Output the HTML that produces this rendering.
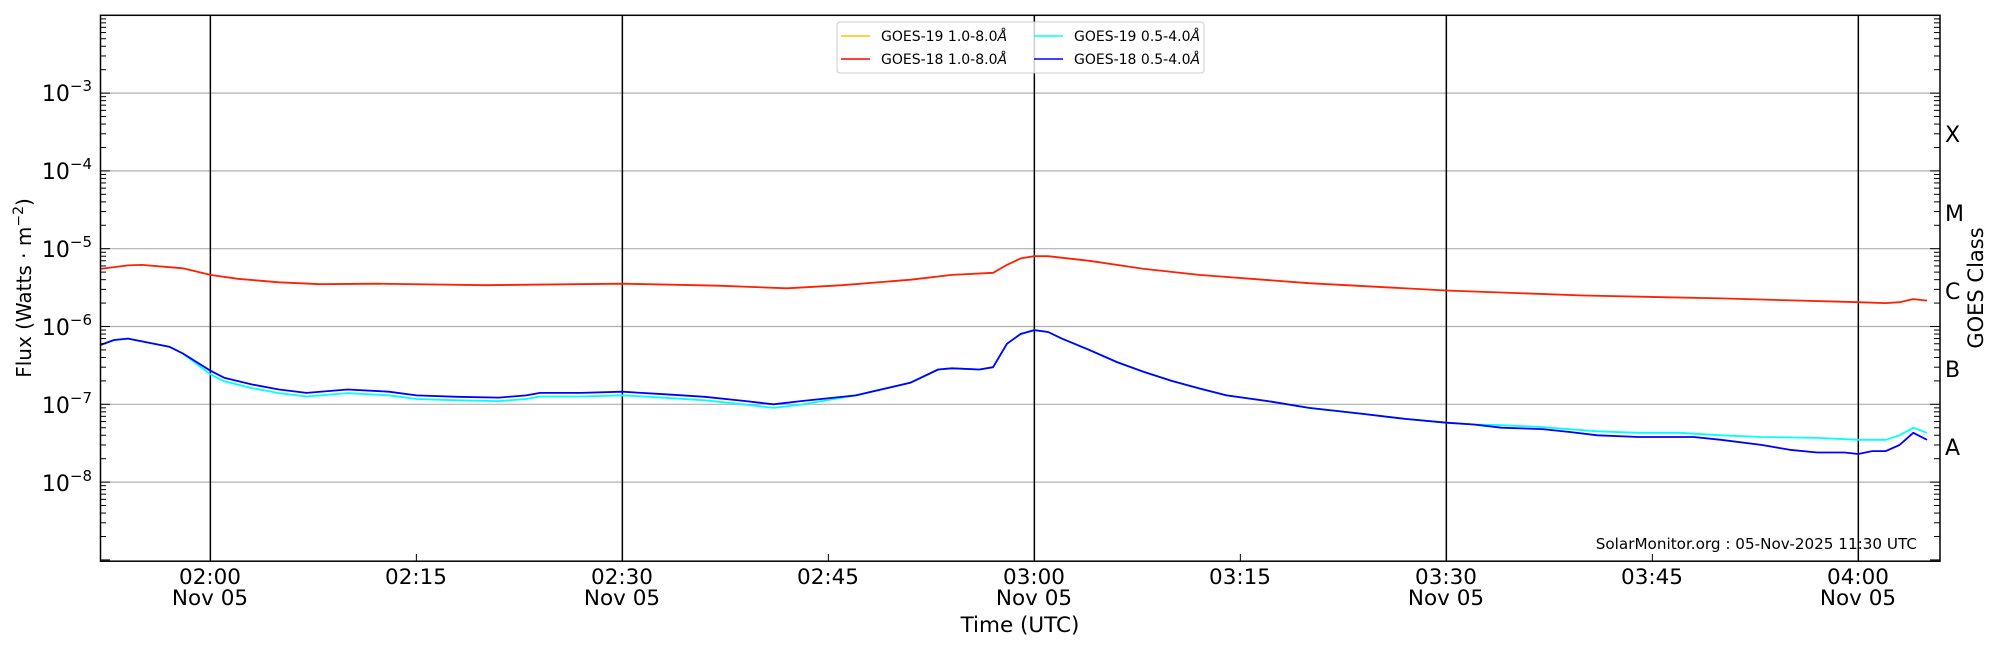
<!DOCTYPE html>
<html><head><meta charset="utf-8"><style>body{margin:0;background:#fff}svg{display:block}text{font-family:"DejaVu Sans","Liberation Sans",sans-serif}</style></head>
<body>
<svg id="s" width="2000" height="650" viewBox="0 0 2000 650">
<g id="grid"></g>
<g id="series"></g>
<rect x="100.5" y="15.3" width="1839.5" height="545.9" fill="none" stroke="#000" stroke-width="1.5"/>
<g id="ticks"></g>
<g font-size="22" text-anchor="end">
<text x="92" y="101">10<tspan dy="-10" font-size="15">−3</tspan></text>
<text x="92" y="179">10<tspan dy="-10" font-size="15">−4</tspan></text>
<text x="92" y="257">10<tspan dy="-10" font-size="15">−5</tspan></text>
<text x="92" y="335">10<tspan dy="-10" font-size="15">−6</tspan></text>
<text x="92" y="413">10<tspan dy="-10" font-size="15">−7</tspan></text>
<text x="92" y="491">10<tspan dy="-10" font-size="15">−8</tspan></text>
</g>
<text transform="translate(31,288) rotate(-90)" font-size="20" text-anchor="middle">Flux (Watts · m<tspan dy="-8" font-size="14">−2</tspan><tspan dy="8">)</tspan></text>
<g font-size="22">
<text x="1945" y="142">X</text><text x="1945" y="221">M</text><text x="1945" y="299">C</text><text x="1945" y="377">B</text><text x="1945" y="455">A</text>
</g>
<text transform="translate(1983,288) rotate(-90)" font-size="21" text-anchor="middle">GOES Class</text>
<g font-size="21.5" text-anchor="middle">
<text x="210" y="584">02:00</text><text x="210" y="605">Nov 05</text>
<text x="416" y="584">02:15</text>
<text x="622" y="584">02:30</text><text x="622" y="605">Nov 05</text>
<text x="828" y="584">02:45</text>
<text x="1034" y="584">03:00</text><text x="1034" y="605">Nov 05</text>
<text x="1240" y="584">03:15</text>
<text x="1446" y="584">03:30</text><text x="1446" y="605">Nov 05</text>
<text x="1652" y="584">03:45</text>
<text x="1858" y="584">04:00</text><text x="1858" y="605">Nov 05</text>
<text x="1020" y="632">Time (UTC)</text>
</g>
<text x="1917" y="549" font-size="15.2" text-anchor="end">SolarMonitor.org : 05-Nov-2025 11:30 UTC</text>
<g>
<rect x="837" y="22" width="367" height="51" fill="#fff" fill-opacity="0.8" stroke="#ccc" rx="3"/>
<line x1="841" y1="36" x2="870" y2="36" stroke="#ffc000" stroke-width="1.5"/>
<line x1="841" y1="59" x2="870" y2="59" stroke="#ff0000" stroke-width="1.5"/>
<line x1="1034" y1="36" x2="1063" y2="36" stroke="#00ffff" stroke-width="1.5"/>
<line x1="1034" y1="59" x2="1063" y2="59" stroke="#0000ff" stroke-width="1.5"/>
<g font-size="14"><text x="881" y="41">GOES-19 1.0-8.0<tspan font-style="italic">Å</tspan></text>
<text x="881" y="64">GOES-18 1.0-8.0<tspan font-style="italic">Å</tspan></text>
<text x="1074" y="41">GOES-19 0.5-4.0<tspan font-style="italic">Å</tspan></text>
<text x="1074" y="64">GOES-18 0.5-4.0<tspan font-style="italic">Å</tspan></text></g>
</g>
</svg>
<script>
var NS="http://www.w3.org/2000/svg";
function X(m){return 100.5+m*13.733;}
function Y(v){return 93.1-(Math.log10(v)+3)*77.8;}
function t(h,m){return (h-1)*60+m-52;}
function el(p,tag,a){var e=document.createElementNS(NS,tag);for(var k in a)e.setAttribute(k,a[k]);p.appendChild(e);return e;}
var g=document.getElementById('grid'),tk=document.getElementById('ticks'),sr=document.getElementById('series');
for(var d=-8;d<=-3;d++){var y=Y(Math.pow(10,d));el(g,'line',{x1:100,x2:1940,y1:y,y2:y,stroke:'#b0b0b0','stroke-width':1.2});}
for(var d=-9;d<=-3;d++){for(var k=1;k<=9;k++){var y=Y(k*Math.pow(10,d));if(y<15||y>561)continue;var L=k==1?10:6;
el(tk,'line',{x1:100,x2:100+L,y1:y,y2:y,stroke:'#000'});el(tk,'line',{x1:1940,x2:1940-L,y1:y,y2:y,stroke:'#000'});}}
[[2,0],[2,30],[3,0],[3,30],[4,0]].forEach(function(a){var x=X(t(a[0],a[1]));el(g,'line',{x1:x,x2:x,y1:15,y2:561,stroke:'#000','stroke-width':1.5});});
[[2,15],[2,45],[3,15],[3,45]].forEach(function(a){var x=X(t(a[0],a[1]));el(tk,'line',{x1:x,x2:x,y1:561,y2:554,stroke:'#000'});});
function P(arr,col){var s='';arr.forEach(function(p,i){s+=(i?'L':'M')+X(t(p[0],p[1])).toFixed(1)+','+Y(p[2]).toFixed(1);});el(sr,'path',{d:s,fill:'none',stroke:col,'stroke-width':1.8,'stroke-linejoin':'round'});}
var red=[[1,52,5.5e-6],[1,54,6.1e-6],[1,55,6.2e-6],[1,58,5.6e-6],[2,0,4.6e-6],[2,2,4.1e-6],[2,5,3.7e-6],[2,8,3.5e-6],[2,12,3.55e-6],[2,20,3.4e-6],[2,30,3.55e-6],[2,37,3.35e-6],[2,42,3.1e-6],[2,46,3.4e-6],[2,51,4.0e-6],[2,54,4.6e-6],[2,57,4.9e-6],[2,58,6.2e-6],[2,59,7.5e-6],[3,0,8e-6],[3,1,8e-6],[3,4,7e-6],[3,8,5.5e-6],[3,12,4.6e-6],[3,20,3.6e-6],[3,30,2.9e-6],[3,40,2.5e-6],[3,50,2.3e-6],[4,0,2.05e-6],[4,2,2.0e-6],[4,3,2.05e-6],[4,4,2.25e-6],[4,5,2.15e-6]];
var blue=[[1,52,5.8e-7],[1,53,6.7e-7],[1,54,7e-7],[1,57,5.5e-7],[1,58,4.5e-7],[2,0,2.7e-7],[2,1,2.2e-7],[2,3,1.8e-7],[2,5,1.55e-7],[2,7,1.4e-7],[2,10,1.55e-7],[2,13,1.45e-7],[2,15,1.3e-7],[2,18,1.25e-7],[2,21,1.22e-7],[2,23,1.3e-7],[2,24,1.4e-7],[2,27,1.4e-7],[2,30,1.45e-7],[2,33,1.35e-7],[2,36,1.25e-7],[2,39,1.1e-7],[2,41,1.0e-7],[2,43,1.1e-7],[2,47,1.3e-7],[2,51,1.9e-7],[2,53,2.8e-7],[2,54,2.9e-7],[2,56,2.8e-7],[2,57,3e-7],[2,58,6e-7],[2,59,8e-7],[3,0,9e-7],[3,1,8.5e-7],[3,2,7e-7],[3,4,5e-7],[3,6,3.5e-7],[3,8,2.6e-7],[3,10,2e-7],[3,12,1.6e-7],[3,14,1.3e-7],[3,17,1.1e-7],[3,20,9e-8],[3,24,7.5e-8],[3,27,6.5e-8],[3,30,5.8e-8],[3,32,5.5e-8],[3,34,5e-8],[3,37,4.8e-8],[3,39,4.4e-8],[3,41,4e-8],[3,44,3.8e-8],[3,48,3.8e-8],[3,50,3.5e-8],[3,53,3e-8],[3,55,2.6e-8],[3,57,2.4e-8],[3,59,2.4e-8],[4,0,2.3e-8],[4,1,2.5e-8],[4,2,2.5e-8],[4,3,3e-8],[4,4,4.3e-8],[4,5,3.5e-8]];
var cyan=blue.map(function(p){var m=t(p[0],p[1]),v=p[2];if(m<t(2,45)&&m>t(1,58))v*=0.9;return [p[0],p[1],v];}).filter(function(p){return t(p[0],p[1])<=t(3,32);});
cyan=cyan.concat([[3,34,5.4e-8],[3,37,5.1e-8],[3,41,4.5e-8],[3,44,4.3e-8],[3,47,4.3e-8],[3,50,4.0e-8],[3,53,3.8e-8],[3,57,3.7e-8],[4,0,3.5e-8],[4,2,3.5e-8],[4,3,4e-8],[4,4,5e-8],[4,5,4.3e-8]]);
P(cyan,'#00ffff');P(blue,'#0000ff');P(red,'#ff2000');
</script>
</body></html>
